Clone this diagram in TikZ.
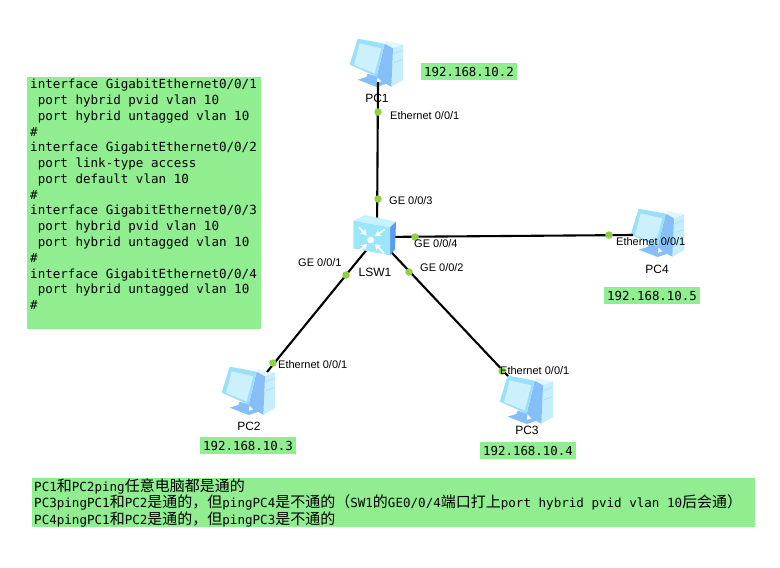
\documentclass[tikz,border=0pt]{standalone}
\usepackage{fontspec}
\setmainfont{Liberation Sans}
\newfontfamily\monof{DejaVu Sans Mono}
\newfontfamily\cjkf{Noto Sans CJK SC}
\newcommand{\zh}[1]{{\fontsize{15}{16}\selectfont\cjkf #1}}
\newcommand{\fixspace}{\spaceskip=7.56pt\relax}
\definecolor{notegreen}{HTML}{90EE90}
\definecolor{pclight}{HTML}{CDF1FC}
\definecolor{pcmid}{HTML}{9BE0FA}
\definecolor{pcblue}{HTML}{86BFF8}
\definecolor{pcpale}{HTML}{E3F6FD}
\definecolor{pctower}{HTML}{C6EDFC}
\definecolor{portgreen}{HTML}{8FD144}
\definecolor{swtop}{HTML}{C8F2FC}
\definecolor{swfront}{HTML}{9BE6FB}
\definecolor{swside}{HTML}{5C9BF2}
\usetikzlibrary{arrows.meta}
\tikzset{
  x=1pt,y=-1pt,
  devlabel/.style={font=\fontsize{12}{14}\selectfont,inner sep=0pt},
  portlabel/.style={font=\fontsize{11}{13}\selectfont,inner sep=0pt,anchor=west},
  ipbox/.style={fill=notegreen,inner sep=0pt,minimum width=96pt,minimum height=17pt,
    font=\monof\fontsize{12.4}{14}\selectfont},
  configbox/.style={fill=notegreen,anchor=north west,inner xsep=3pt,inner ysep=0pt,text width=228pt,align=left,
    font=\monof\fontsize{12.55}{15.78}\selectfont},
  resultbox/.style={fill=notegreen,anchor=north west,inner xsep=2pt,inner ysep=0pt,text width=719pt,minimum height=49pt,align=left,
    font=\monof\fontsize{12.55}{16.4}\selectfont},
  netlink/.style={draw=black,line width=2.1pt},
  portdot/.style={circle,fill=portgreen,inner sep=0pt,minimum size=7.5pt},
  pics/pcicon/.style={code={
    \begin{scope}[x=0.3333pt,y=-0.3333pt,shift={(-112,-100)}]
      % tower
      \fill[pcpale] (140,34) -- (190,44) -- (190,151) -- (155,171) -- (125,150) -- cycle;
      \fill[pctower] (160,56) -- (190,44) -- (190,151) -- (155,171) -- cycle;
      \draw[pcmid,line width=0.5pt] (162,72) -- (188,62) (162,100) -- (188,90);
      % monitor side
      \fill[pcblue] (135,42) -- (160,56) -- (155,171) -- (125,155) -- (111,141) -- cycle;
      % stand
      \fill[pcblue] (84,132) -- (114,141) -- (111,160) -- (141,150) -- (141,162) -- (111,172) -- (54,150) -- (80,142) -- cycle;
      % monitor front
      \fill[pcmid] (54,27) -- (135,42) -- (111,141) -- (30,105) -- cycle;
      \fill[pclight] (60,41) -- (125,56) -- (105,131) -- (43,106) -- cycle;
    \end{scope}
  }},
  pics/switchicon/.style={code={
    \begin{scope}[x=0.3333pt,y=-0.3333pt,shift={(-261,-141)}]
      \fill[swtop] (190,92) -- (225,75) -- (318,95) -- (300,112) -- cycle;
      \fill[swside] (300,112) -- (318,95) -- (315,178) -- (300,196) -- cycle;
      \fill[swfront] (190,92) -- (300,112) -- (300,196) -- (190,175) -- cycle;
      \fill[white] (242,150) circle (10);
      \begin{scope}[white,line width=1.8pt,-{Stealth[length=6pt,width=7pt]}]
        \draw (207,112) -- (230,136);
        \draw (285,118) -- (255,138);
        \draw (208,182) -- (232,162);
        \draw (282,190) -- (255,162);
      \end{scope}
    \end{scope}
  }}
}
\begin{document}
\begin{tikzpicture}
\useasboundingbox (0,0) rectangle (780,568);
% device anchors
\coordinate (pc1) at (377,63);
\coordinate (pc2) at (249,391);
\coordinate (pc3) at (527,400);
\coordinate (pc4) at (658,233);
\coordinate (lsw) at (377,237);
\coordinate (pc1end) at (378,82);
\coordinate (pc2end) at (267,372);
\coordinate (pc3end) at (508,376);
\coordinate (pc4end) at (633,235);
% PCs sit under the links
\pic at (pc1) {pcicon};
\pic at (pc2) {pcicon};
\pic at (pc3) {pcicon};
\pic at (pc4) {pcicon};
% links
\draw[netlink] (lsw) -- (pc1end);
\draw[netlink] (lsw) -- (pc2end);
\draw[netlink] (lsw) -- (pc3end);
\draw[netlink] (lsw) -- (pc4end);
% switch on top
\pic at (lsw) {switchicon};
% port dots
\node[portdot] (d1a) at (378,112) {};
\node[portdot] (d1b) at (378,199) {};
\node[portdot] (d2a) at (346,275) {};
\node[portdot] (d2b) at (273,363) {};
\node[portdot] (d3a) at (409,272) {};
\node[portdot] (d3b) at (502,371) {};
\node[portdot] (d4a) at (415,237) {};
\node[portdot] (d4b) at (609,235) {};
% device labels
\node[devlabel] (l1) at (377,98) {PC1};
\node[devlabel] (l2) at (249,426) {PC2};
\node[devlabel] (l3) at (527,430) {PC3};
\node[devlabel] (l4) at (657,269) {PC4};
\node[devlabel] (l5) at (375,272) {LSW1};
% port labels
\node[portlabel] (p1) at (390,116) {Ethernet 0/0/1};
\node[portlabel] (p2) at (389,201) {GE 0/0/3};
\node[portlabel] (p3) at (414,244) {GE 0/0/4};
\node[portlabel] (p4) at (298,263) {GE 0/0/1};
\node[portlabel] (p5) at (420,268) {GE 0/0/2};
\node[portlabel] (p6) at (278,365) {Ethernet 0/0/1};
\node[portlabel] (p7) at (500,371) {Ethernet 0/0/1};
\node[portlabel] (p8) at (616,242) {Ethernet 0/0/1};
% addresses
\node[ipbox] (ip1) at (469,71.5) {192.168.10.2};
\node[ipbox] (ip2) at (248,445.5) {192.168.10.3};
\node[ipbox] (ip3) at (528,450.5) {192.168.10.4};
\node[ipbox] (ip4) at (652,295.5) {192.168.10.5};
% configuration
\node[configbox] (cfg) at (27,77) {\fixspace
\rule{0pt}{11.5pt}interface GigabitEthernet0/0/1\\
\ port hybrid pvid vlan 10\\
\ port hybrid untagged vlan 10\\
\#\\
interface GigabitEthernet0/0/2\\
\ port link-type access\\
\ port default vlan 10\\
\#\\
interface GigabitEthernet0/0/3\\
\ port hybrid pvid vlan 10\\
\ port hybrid untagged vlan 10\\
\#\\
interface GigabitEthernet0/0/4\\
\ port hybrid untagged vlan 10\\
\#\rule[-19.5pt]{0pt}{19.5pt}};
% result notes
\node[resultbox] (res) at (32,478) {\fixspace
PC1\zh{和}PC2ping\zh{任意电脑都是通的}\\
PC3pingPC1\zh{和}PC2\zh{是通的，但}pingPC4\zh{是不通的（}SW1\zh{的}GE0/0/4\zh{端口打上}port hybrid pvid vlan 10\zh{后会通）}\\
PC4pingPC1\zh{和}PC2\zh{是通的，但}pingPC3\zh{是不通的}};
\end{tikzpicture}
\end{document}
